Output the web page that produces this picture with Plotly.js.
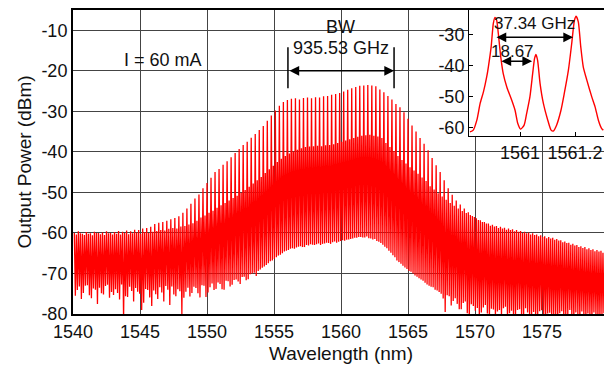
<!DOCTYPE html>
<html>
<head>
<meta charset="utf-8">
<script src="https://cdn.plot.ly/plotly-3.0.1.min.js"></script>
<style>
html,body{margin:0;padding:0;overflow:hidden;background:#fff;}
#chart{width:609px;height:371px;}
</style>
</head>
<body>
<div id="chart"></div>
<script>
// ---- comb of the spectrum: one entry per main (37.34 GHz) mode ----
const combStart = 1540.1;     // nm, first main mode
const combSpacing = 0.3;      // nm, main mode spacing
const mainPeak = [
-60.0,-59.6,-60.2,-59.8,-60.1,-59.7,-60.0,-59.9,-59.6,-60.0,
-59.8,-59.5,-59.7,-59.4,-59.6,-59.2,-59.3,-58.9,-58.8,-58.5,
-57.8,-57.5,-57.3,-57.0,-56.6,-56.3,-55.9,-55.0,-54.0,-52.8,
-51.5,-50.5,-49.0,-47.7,-46.4,-45.0,-44.2,-43.2,-42.3,-41.3,
-40.3,-39.3,-38.3,-37.5,-36.5,-35.6,-34.6,-33.6,-32.3,-31.0,
-29.8,-28.6,-27.7,-27.2,-26.9,-26.8,-27.1,-26.7,-26.6,-26.8,
-26.5,-26.6,-26.3,-26.2,-25.9,-25.7,-25.5,-25.1,-24.7,-24.3,
-24.0,-23.7,-23.6,-23.5,-23.6,-23.8,-24.6,-25.3,-26.2,-27.1,
-28.2,-29.0,-30.2,-31.8,-33.5,-35.0,-36.6,-38.0,-39.6,-41.5,
-43.3,-45.0,-47.0,-49.0,-50.6,-52.0,-53.0,-54.0,-54.9,-55.8,
-56.4,-56.9,-57.3,-57.7,-58.0,-58.3,-58.5,-58.7,-58.9,-59.1,
-59.3,-59.5,-59.7,-59.9,-60.1,-60.4,-60.6,-60.8,-61.0,-61.2,
-61.5,-61.8,-62.1,-62.4,-62.7,-63.0,-63.3,-63.5,-63.8,-64.0,
-64.2,-64.4,-64.6];
// half-spacing (18.67 GHz) side modes
const subPeak = [
-60.4,-60.1,-60.5,-60.2,-60.6,-60.0,-60.3,-60.5,-60.1,-60.4,
-60.2,-60.4,-60.0,-60.3,-60.1,-59.9,-60.2,-59.8,-60.0,-59.7,
-59.5,-59.3,-59.4,-59.0,-58.8,-58.9,-58.4,-58.3,-57.9,-57.6,
-57.0,-56.2,-55.7,-55.0,-54.5,-53.8,-53.2,-52.6,-52.0,-51.4,
-50.8,-50.1,-49.4,-48.6,-47.8,-47.0,-46.2,-45.2,-44.3,-43.4,
-42.5,-41.7,-41.0,-40.4,-39.9,-39.5,-39.1,-38.8,-38.7,-38.6,
-38.5,-38.6,-38.4,-38.3,-38.1,-37.8,-37.5,-37.2,-36.9,-36.6,
-36.3,-36.0,-35.9,-35.8,-36.0,-36.2,-36.6,-37.8,-38.8,-39.8,
-41.0,-42.0,-42.9,-43.8,-44.6,-45.4,-46.3,-47.2,-48.5,-49.3,
-50.2,-51.0,-51.8,-52.6,-53.3,-54.0,-54.6,-55.1,-55.6,-56.1,
-56.8,-57.3,-57.7,-58.2,-58.4,-58.8,-58.9,-59.2,-59.3,-59.6,
-59.7,-60.0,-60.1,-60.4,-60.5,-60.8,-61.0,-61.3,-61.4,-61.7,
-61.9,-62.3,-62.5,-62.9,-63.1,-63.5,-63.7,-64.0,-64.2,-64.5,
-64.6,-64.9,-65.0];
// minima after each main mode
const troughA = [
-75.5,-73.2,-74.8,-72.9,-76.1,-74.0,-73.5,-75.2,-72.8,-74.6,
-73.9,-76.4,-81.0,-75.8,-74.3,-73.6,-75.0,-77.2,-74.1,-78.0,
-75.1,-73.4,-76.9,-74.0,-73.2,-75.6,-74.4,-76.0,-73.5,-74.8,
-73.6,-75.9,-73.0,-74.7,-72.5,-73.8,-72.6,-74.0,-71.9,-72.8,
-71.5,-72.6,-70.8,-71.4,-70.0,-70.6,-69.0,-68.3,-67.5,-66.8,
-66.0,-65.4,-64.6,-64.2,-63.8,-63.6,-63.3,-63.5,-63.1,-62.9,
-62.8,-63.0,-62.6,-62.5,-62.3,-62.4,-62.0,-61.9,-61.6,-61.4,
-61.2,-61.0,-61.1,-61.3,-61.6,-62.0,-62.5,-63.4,-64.4,-65.5,
-66.8,-67.6,-68.5,-69.4,-70.0,-70.8,-71.5,-72.3,-73.0,-73.4,
-74.2,-75.0,-79.5,-75.6,-76.8,-77.5,-78.8,-76.9,-81.0,-78.0,
-78.5,-79.6,-77.8,-81.0,-78.9,-79.4,-80.5,-78.2,-79.8,-81.0,
-79.0,-80.2,-78.6,-81.0,-79.5,-80.8,-79.1,-81.0,-79.7,-80.4,
-81.0,-79.3,-80.6,-79.0,-81.0,-80.1,-79.4,-81.0,-80.3,-79.6,
-81.0,-80.0,-79.5];
// minima after each side mode
const troughB = [
-74.1,-76.3,-73.0,-75.4,-73.7,-77.5,-74.9,-73.1,-76.0,-75.3,
-74.8,-72.7,-75.6,-73.3,-76.9,-74.5,-79.0,-73.8,-75.9,-74.2,
-76.3,-74.7,-73.1,-77.8,-75.2,-73.9,-80.0,-74.5,-75.7,-73.3,
-74.9,-72.9,-75.8,-73.4,-74.1,-72.2,-73.9,-71.8,-73.2,-71.6,
-72.0,-70.9,-71.7,-70.2,-69.8,-69.4,-68.6,-67.9,-67.0,-66.4,
-65.6,-65.0,-64.4,-63.9,-63.9,-63.4,-63.5,-63.0,-62.8,-63.0,
-62.6,-62.7,-62.4,-62.7,-62.1,-62.2,-61.8,-61.7,-61.5,-61.2,
-61.0,-61.1,-60.9,-61.4,-61.5,-62.2,-62.9,-63.8,-64.9,-66.0,
-67.2,-68.1,-68.9,-69.6,-70.5,-71.2,-71.8,-72.7,-73.3,-74.0,
-74.6,-76.2,-75.4,-77.9,-76.1,-78.8,-77.3,-79.8,-77.6,-79.2,
-80.6,-78.4,-79.9,-78.7,-80.9,-79.0,-78.6,-81.0,-79.2,-80.1,
-78.8,-81.0,-79.6,-80.0,-81.0,-79.3,-80.7,-79.9,-81.0,-80.2,
-79.8,-81.0,-80.4,-80.8,-79.6,-81.0,-80.5,-79.9,-81.0,-80.3,
-80.7,-79.8,-81.0];

// ---- inset: zoom around 1561 nm ----
const insetWl = [1560.818,1560.830,1560.843,1560.855,1560.867,1560.879,1560.885,1560.895,1560.903,1560.909,
1560.915,1560.921,1560.930,1560.939,1560.952,1560.970,1560.982,1560.992,1561.002,1561.015,
1561.024,1561.036,1561.046,1561.053,1561.058,1561.064,1561.073,1561.085,1561.101,1561.113,
1561.121,1561.133,1561.149,1561.161,1561.176,1561.188,1561.198,1561.204,1561.212,1561.221,
1561.230,1561.243,1561.261,1561.273,1561.285,1561.297,1561.303];
const insetPw = [-61.3,-60.7,-57.5,-52.1,-48.4,-43.5,-40.3,-33.9,-26.3,-24.4,
-25.3,-29.5,-37.1,-42.5,-46.8,-51.1,-54.3,-58.6,-60.4,-59.1,
-55.4,-50.0,-42.5,-37.6,-36.3,-38.2,-45.7,-52.1,-57.5,-60.7,
-61.0,-59.1,-54.3,-48.9,-41.4,-32.8,-25.3,-24.0,-25.8,-33.9,
-40.3,-44.6,-50.0,-53.2,-57.5,-60.2,-60.7];

const xTicks = [1540,1545,1550,1555,1560,1565,1570,1575];
const yTicks = [-80,-70,-60,-50,-40,-30,-20,-10];
const yTickText = ['-80','-70','-60','-50','-40','-30','-20','-10'];
const insetXTicks = [1561,1561.2];
const insetXTickText = ['1561','1561.2'];
const insetYTicks = [-60,-50,-40,-30];
const insetYTickText = ['-60','-50','-40','-30'];

// build the spectrum trace: main mode, minimum, side mode, minimum per period
const specX = [], specY = [];
for (let k = 0; k < mainPeak.length; k++) {
  const c = combStart + combSpacing * k;
  specX.push(c, c + combSpacing * 0.25, c + combSpacing * 0.5, c + combSpacing * 0.75);
  specY.push(mainPeak[k], troughA[k], subPeak[k], troughB[k]);
}

const FONT = '"Liberation Sans", Arial, Helvetica, sans-serif';
const traces = [
  {x: specX, y: specY, type: 'scatter', mode: 'lines',
   line: {color: '#ff0000', width: 1.3, simplify: false}, xaxis: 'x', yaxis: 'y', hoverinfo: 'skip'},
  {x: insetWl, y: insetPw, type: 'scatter', mode: 'lines',
   line: {color: '#ff0000', width: 1.4, shape: 'spline', smoothing: 0.6}, xaxis: 'x2', yaxis: 'y2', hoverinfo: 'skip'}
];

const ann = (o) => Object.assign({font: {family: FONT, size: 18, color: '#111'}}, o);
const layout = {
  width: 609, height: 371,
  margin: {l: 73, r: 0, t: 10, b: 57},
  paper_bgcolor: '#fff', plot_bgcolor: '#fff',
  showlegend: false,
  font: {family: FONT, size: 18, color: '#111'},
  xaxis: {
    domain: [0, 1], range: [1540, 1580], tickvals: xTicks,
    showgrid: true, gridcolor: '#444', gridwidth: 1, zeroline: false,
    showline: true, mirror: true, linecolor: '#000', linewidth: 2, ticks: '',
    tickfont: {family: FONT, size: 18, color: '#111'},
    title: {text: 'Wavelength (nm)', font: {family: FONT, size: 19, color: '#111'}, standoff: 6}
  },
  yaxis: {
    domain: [0, 1], range: [-80, -5], tickvals: yTicks, ticktext: yTickText,
    showgrid: true, gridcolor: '#444', gridwidth: 1, zeroline: false,
    showline: true, mirror: true, linecolor: '#000', linewidth: 2, ticks: '',
    tickfont: {family: FONT, size: 18, color: '#111'},
    title: {text: 'Output Power (dBm)', font: {family: FONT, size: 19, color: '#111'}, standoff: 5}
  },
  xaxis2: {
    anchor: 'y2', domain: [0.7388, 0.9907], range: [1560.8145, 1561.3055],
    tickvals: insetXTicks, ticktext: insetXTickText,
    showgrid: false, zeroline: false, showline: true, mirror: true,
    linecolor: '#000', linewidth: 1, ticks: 'inside', ticklen: 4, tickcolor: '#000',
    tickfont: {family: FONT, size: 18, color: '#111'}
  },
  yaxis2: {
    anchor: 'x2', domain: [0.5855, 1.0], range: [-62.6, -22.0],
    tickvals: insetYTicks, ticktext: insetYTickText,
    showgrid: false, zeroline: false, showline: true, mirror: true,
    linecolor: '#000', linewidth: 1, ticks: 'inside', ticklen: 4, tickcolor: '#000',
    tickfont: {family: FONT, size: 18, color: '#111'}
  },
  shapes: [
    {type: 'line', xref: 'x', yref: 'y', x0: 1556.04, x1: 1556.04, y0: -14.2, y1: -24.3, line: {color: '#000', width: 1.5}},
    {type: 'line', xref: 'x', yref: 'y', x0: 1563.96, x1: 1563.96, y0: -14.2, y1: -24.3, line: {color: '#000', width: 1.5}}
  ],
  annotations: [
    ann({xref: 'x', yref: 'y', x: 1546.7, y: -17.4, text: 'I = 60 mA', showarrow: false}),
    ann({xref: 'x', yref: 'y', x: 1559.93, y: -9.3, text: 'BW', showarrow: false}),
    ann({xref: 'x', yref: 'y', x: 1560.0, y: -14.3, text: '935.53 GHz', showarrow: false}),
    {xref: 'x', yref: 'y', axref: 'x', ayref: 'y', x: 1563.96, y: -20, ax: 1556.04, ay: -20, text: '',
     showarrow: true, arrowside: 'end+start', arrowhead: 2, startarrowhead: 2, arrowsize: 1.3, startarrowsize: 1.3,
     arrowwidth: 1.5, arrowcolor: '#000', standoff: 0, startstandoff: 0},
    ann({xref: 'x2', yref: 'y2', x: 1561.051, y: -26.5, text: '37.34 GHz', showarrow: false, font: {family: FONT, size: 17, color: '#111'}}),
    {xref: 'x2', yref: 'y2', axref: 'x2', ayref: 'y2', x: 1561.193, y: -30.8, ax: 1560.909, ay: -30.8, text: '',
     showarrow: true, arrowside: 'end+start', arrowhead: 2, startarrowhead: 2, arrowsize: 1.3, startarrowsize: 1.3,
     arrowwidth: 1.5, arrowcolor: '#000', standoff: 0, startstandoff: 0},
    ann({xref: 'x2', yref: 'y2', x: 1560.973, y: -35.3, text: '18.67', showarrow: false, font: {family: FONT, size: 17, color: '#111'}}),
    {xref: 'x2', yref: 'y2', axref: 'x2', ayref: 'y2', x: 1561.044, y: -38.5, ax: 1560.927, ay: -38.5, text: '',
     showarrow: true, arrowside: 'end+start', arrowhead: 2, startarrowhead: 2, arrowsize: 1.3, startarrowsize: 1.3,
     arrowwidth: 1.5, arrowcolor: '#000', standoff: 0, startstandoff: 0}
  ]
};

Plotly.newPlot('chart', traces, layout, {staticPlot: true, displayModeBar: false});
</script>
</body>
</html>
